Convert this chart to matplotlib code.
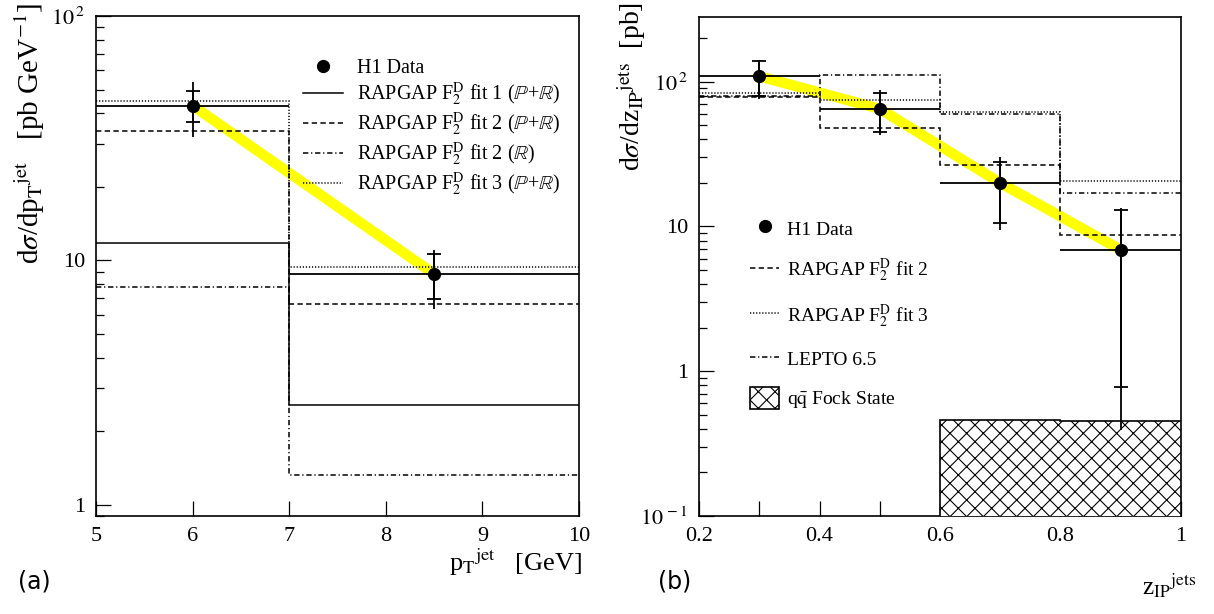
import numpy as np
import matplotlib
matplotlib.use("Agg")
import matplotlib.pyplot as plt
from matplotlib.lines import Line2D
from matplotlib.patches import Patch
from matplotlib.ticker import FixedLocator, FixedFormatter, LogLocator, NullFormatter, MultipleLocator

plt.rcParams["font.family"] = ["Liberation Serif", "DejaVu Serif"]
plt.rcParams["mathtext.fontset"] = "stix"
plt.rcParams["hatch.linewidth"] = 0.8

# ---- panel (a): pT jet ----
pt_edges = [5, 7, 10]
pt_centres = [6, 8.5]
pt_data = [43.0, 8.8]
pt_stat_lo = [37.0, 6.96]
pt_stat_hi = [49.3, 10.6]
pt_tot_lo = [32.0, 6.3]
pt_tot_hi = [53.7, 11.0]
pt_fit1 = [11.8, 2.56]
pt_fit2 = [33.7, 6.64]
pt_fit2_ir = [7.8, 1.33]
pt_fit3 = [44.9, 9.36]

# ---- panel (b): z_IP jets ----
z_edges = [0.2, 0.4, 0.6, 0.8, 1.0]
z_centres = [0.3, 0.5, 0.7, 0.9]
z_data = [109.0, 65.0, 20.0, 6.9]
z_stat_lo = [80.0, 45.0, 10.5, 0.78]
z_stat_hi = [138.0, 84.0, 28.0, 12.9]
z_tot_lo = [76.0, 43.0, 9.4, 0.39]
z_tot_hi = [142.0, 87.0, 30.0, 13.5]
z_fit2 = [78.0, 48.0, 26.7, 8.8]
z_fit3 = [84.0, 75.0, 62.0, 20.7]
z_lepto = [80.0, 112.0, 60.0, 17.1]
fock_edges = [0.6, 0.8, 1.0]
fock = [0.46, 0.45]

LW = 1.1
DASH = (0, (3.5, 2.2))
DOT = (0, (0.8, 1.2))
DASHDOT = (0, (3.5, 1.8, 0.8, 1.8))
YELLOW = "#ffff00"

fig = plt.figure(figsize=(12.14, 6.14), dpi=100)
ax1 = fig.add_axes([0.0791, 0.1596, 0.3979, 0.8143])
ax2 = fig.add_axes([0.5758, 0.1596, 0.3970, 0.8127])


def draw_data(ax, x, y, edges, slo, shi, tlo, thi):
    x = np.array(x)
    y = np.array(y)
    ax.plot(x, y, color=YELLOW, lw=7.5, solid_capstyle="butt", zorder=2)
    xlo = x - np.array(edges[:-1])
    xhi = np.array(edges[1:]) - x
    ax.errorbar(x, y, yerr=[y - np.array(tlo), np.array(thi) - y],
                xerr=[xlo, xhi], fmt="none", ecolor="black", elinewidth=1.3,
                capsize=0, zorder=4)
    ax.errorbar(x, y, yerr=[y - np.array(slo), np.array(shi) - y],
                fmt="o", color="black", ms=8.5, ecolor="black", elinewidth=1.3,
                capsize=5, capthick=1.3, zorder=5)


def style_axis(ax):
    ax.set_yscale("log")
    ax.tick_params(which="both", direction="in", top=False, right=False,
                   labelsize=16, pad=8)
    ax.tick_params(which="major", length=11, width=0.9)
    ax.tick_params(which="minor", length=6, width=0.9)
    for s in ax.spines.values():
        s.set_linewidth(1.2)


# panel (a)
ax1.stairs(pt_fit1, pt_edges, baseline=None, color="black", lw=LW, zorder=3)
ax1.stairs(pt_fit2, pt_edges, baseline=None, color="black", lw=LW, ls=DASH, zorder=3)
ax1.stairs(pt_fit2_ir, pt_edges, baseline=None, color="black", lw=LW, ls=DASHDOT, zorder=3)
ax1.stairs(pt_fit3, pt_edges, baseline=None, color="black", lw=LW, ls=DOT, zorder=3)
draw_data(ax1, pt_centres, pt_data, pt_edges, pt_stat_lo, pt_stat_hi, pt_tot_lo, pt_tot_hi)
style_axis(ax1)
ax1.set_xlim(5, 10)
ax1.set_ylim(0.9, 100)
ax1.xaxis.set_major_locator(MultipleLocator(1))
ax1.yaxis.set_major_locator(FixedLocator([1, 10, 100]))
ax1.yaxis.set_major_formatter(FixedFormatter(["1", "10", r"$10^{\,2}$"]))
ax1.yaxis.set_minor_locator(LogLocator(base=10, subs=np.arange(2, 10)))
ax1.yaxis.set_minor_formatter(NullFormatter())
ax1.set_ylabel(r"d$\sigma$/dp$_{\rm T}$$^{\rm jet}$" + "   [pb GeV$^{-1}$]",
               fontsize=21, ha="right", va="center")
ax1.yaxis.set_label_coords(-0.137, 1.026)
ax1.set_xlabel(r"p$_{\rm T}$$^{\rm jet}$" + "   [GeV]", fontsize=19, ha="right")
ax1.xaxis.set_label_coords(1.006, -0.062)

h1 = [
    Line2D([], [], marker="o", color="black", ls="none", ms=8.5),
    Line2D([], [], color="black", lw=LW),
    Line2D([], [], color="black", lw=LW, ls=DASH),
    Line2D([], [], color="black", lw=LW, ls=DASHDOT),
    Line2D([], [], color="black", lw=LW, ls=DOT),
]
l1 = [
    "H1 Data",
    r"RAPGAP F$_2^{\rm D}$ fit 1 ($\mathbb{P}$+$\mathbb{R}$)",
    r"RAPGAP F$_2^{\rm D}$ fit 2 ($\mathbb{P}$+$\mathbb{R}$)",
    r"RAPGAP F$_2^{\rm D}$ fit 2 ($\mathbb{R}$)",
    r"RAPGAP F$_2^{\rm D}$ fit 3 ($\mathbb{P}$+$\mathbb{R}$)",
]
ax1.legend(h1, l1, loc="upper left", bbox_to_anchor=(0.39, 0.95), frameon=False,
           fontsize=14.5, handlelength=2.0, labelspacing=0.12, handletextpad=0.7)

# panel (b)
ax2.stairs(z_fit2, z_edges, baseline=None, color="black", lw=LW, ls=DASH, zorder=3)
ax2.stairs(z_fit3, z_edges, baseline=None, color="black", lw=LW, ls=DOT, zorder=3)
ax2.stairs(z_lepto, z_edges, baseline=None, color="black", lw=LW, ls=DASHDOT, zorder=3)
ax2.stairs(fock, fock_edges, baseline=0.1, fill=True, facecolor="white",
           edgecolor="black", hatch="xx", lw=1.2, zorder=3)
draw_data(ax2, z_centres, z_data, z_edges, z_stat_lo, z_stat_hi, z_tot_lo, z_tot_hi)
style_axis(ax2)
ax2.set_xlim(0.2, 1.0)
ax2.set_ylim(0.1, 280)
ax2.xaxis.set_major_locator(FixedLocator([0.2, 0.4, 0.6, 0.8, 1.0]))
ax2.xaxis.set_major_formatter(FixedFormatter(["0.2", "0.4", "0.6", "0.8", "1"]))
ax2.xaxis.set_minor_locator(FixedLocator([0.3, 0.5, 0.7, 0.9]))
ax2.tick_params(axis="x", which="minor", length=11)
ax2.yaxis.set_major_locator(FixedLocator([0.1, 1, 10, 100]))
ax2.yaxis.set_major_formatter(FixedFormatter([r"$10^{\,-1}$", "1", "10", r"$10^{\,2}$"]))
ax2.yaxis.set_minor_locator(LogLocator(base=10, subs=np.arange(2, 10)))
ax2.yaxis.set_minor_formatter(NullFormatter())
ax2.set_ylabel(r"d$\sigma$/dz$_{\rm IP}$$^{\rm jets}$" + "  [pb]", fontsize=20,
               ha="right", va="center")
ax2.yaxis.set_label_coords(-0.14, 1.03)
ax2.set_xlabel(r"z$_{\rm IP}$$^{\rm jets}$", fontsize=18, ha="right")
ax2.xaxis.set_label_coords(1.031, -0.11)

h2 = [
    Line2D([], [], marker="o", color="black", ls="none", ms=8.5),
    Line2D([], [], color="black", lw=LW, ls=DASH),
    Line2D([], [], color="black", lw=LW, ls=DOT),
    Line2D([], [], color="black", lw=LW, ls=DASHDOT),
    Patch(facecolor="white", edgecolor="black", hatch="xx", lw=1.2),
]
l2 = [
    "H1 Data",
    r"RAPGAP F$_2^{\rm D}$ fit 2",
    r"RAPGAP F$_2^{\rm D}$ fit 3",
    "LEPTO 6.5",
    r"q$\bar{\rm q}$ Fock State",
]
ax2.legend(h2, l2, loc="upper left", bbox_to_anchor=(0.07, 0.633), frameon=False,
           fontsize=14, handlelength=1.5, handleheight=1.3, labelspacing=0.93,
           handletextpad=0.4)

fig.text(18 / 1214, 1 - 582 / 614, "(a)", fontsize=17, family="DejaVu Sans", va="center")
fig.text(658 / 1214, 1 - 582 / 614, "(b)", fontsize=17, family="DejaVu Sans", va="center")

fig.savefig("out.png", dpi=100)
